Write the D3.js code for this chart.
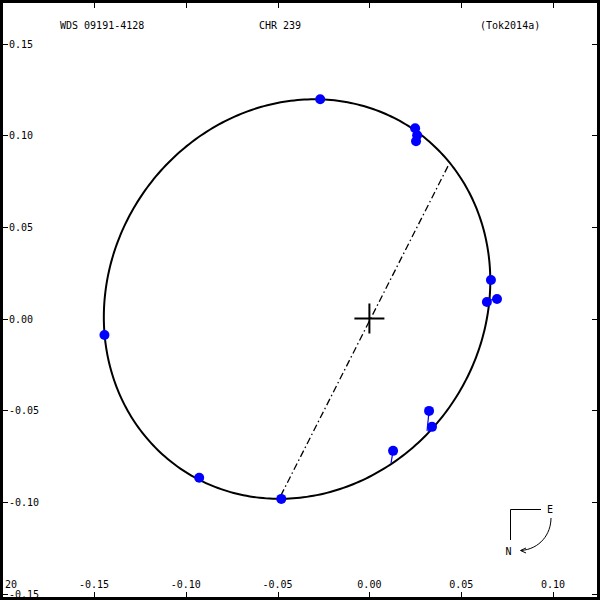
<!DOCTYPE html>
<html>
<head>
<meta charset="utf-8">
<script src="https://cdn.jsdelivr.net/npm/d3@7"></script>
<style>
body { margin: 0; background: #fff; }
svg { display: block; }
text { font-family: 'DejaVu Sans Mono', monospace; font-size: 10px; fill: #000; }
</style>
</head>
<body>
<svg id="chart1" width="600" height="600"></svg>
<script>
'use strict';

var titles = ['WDS 09191-4128', 'CHR 239', '(Tok2014a)'];
var xTicks = [-0.15, -0.10, -0.05, 0.00, 0.05, 0.10];
var yTicks = [0.15, 0.10, 0.05, 0.00, -0.05, -0.10, -0.15];

// apparent orbit: centre x, centre y, semi-major, semi-minor, tilt (deg)
var orbit = [-0.0394, 0.0106, 0.1122, 0.1018, 55.5];
// line of nodes, ends on the orbit
var nodes = [[0.0428, 0.0831], [-0.0486, -0.0973]];

// measures (observed) and where the orbit puts them
var obsX = [-0.0268, 0.0249, 0.0260, 0.0254, 0.0662, 0.0640, 0.0695, 0.0325, 0.0341, 0.0129, -0.1443, -0.0927, -0.0480];
var obsY = [0.1196, 0.1038, 0.1000, 0.0967, 0.0210, 0.0090, 0.0106, -0.0504, -0.0591, -0.0722, -0.0090, -0.0869, -0.0984];
var fitX = [-0.0268, 0.0238, 0.0270, 0.0276, 0.0654, 0.0651, 0.0651, 0.0314, 0.0319, 0.0118, -0.1443, -0.0927, -0.0480];
var fitY = [0.1196, 0.1049, 0.1022, 0.1016, 0.0210, 0.0090, 0.0101, -0.0613, -0.0619, -0.0787, -0.0063, -0.0869, -0.0984];

var x = d3.scaleLinear().domain([-0.15, 0.10]).range([94, 553]);
var y = d3.scaleLinear().domain([-0.15, 0.15]).range([593.5, 43.5]);

var svg = d3.select('#chart1');

var line = d3.line()
	.x(function(p) { return x(p[0]); })
	.y(function(p) { return y(p[1]); });

// orbit ellipse
var th = orbit[4] * Math.PI / 180;
var ring = d3.range(0, 361).map(function(k) {
	var t = k * Math.PI / 180;
	return [
		orbit[0] + orbit[2] * Math.cos(th) * Math.cos(t) - orbit[3] * Math.sin(th) * Math.sin(t),
		orbit[1] + orbit[2] * Math.sin(th) * Math.cos(t) + orbit[3] * Math.cos(th) * Math.sin(t)
	];
});
svg.append('path')
	.attr('d', line(ring))
	.attr('fill', 'none')
	.attr('stroke', '#000')
	.attr('stroke-width', 2);

// line of nodes
svg.append('path')
	.attr('d', line(nodes))
	.attr('fill', 'none')
	.attr('stroke', '#000')
	.attr('stroke-width', 1.3)
	.attr('stroke-dasharray', '7,3,1.5,3');

// primary
svg.append('path')
	.attr('d', 'M' + (x(0) - 15) + ',' + y(0) + 'H' + (x(0) + 15) + 'M' + x(0) + ',' + (y(0) - 15) + 'V' + (y(0) + 15))
	.attr('stroke', '#000')
	.attr('stroke-width', 2);

// residuals + measures
var meas = obsX.map(function(v, i) {
	return {ox: v, oy: obsY[i], fx: fitX[i], fy: fitY[i]};
});
svg.selectAll('line.res')
	.data(meas)
	.enter()
	.append('line')
	.attr('x1', function(d) { return x(d.ox); })
	.attr('y1', function(d) { return y(d.oy); })
	.attr('x2', function(d) { return x(d.fx); })
	.attr('y2', function(d) { return y(d.fy); })
	.attr('stroke', '#0000ff')
	.attr('stroke-width', 1.2);
svg.selectAll('circle.obs')
	.data(meas)
	.enter()
	.append('circle')
	.attr('cx', function(d) { return x(d.ox); })
	.attr('cy', function(d) { return y(d.oy); })
	.attr('r', 5)
	.attr('fill', '#0000ff');

// frame and ticks
svg.append('rect')
	.attr('x', 1.5).attr('y', 1.5)
	.attr('width', 597).attr('height', 597)
	.attr('fill', 'none')
	.attr('stroke', '#000')
	.attr('stroke-width', 3);

xTicks.forEach(function(v) {
	var px = Math.round(x(v)) + 0.5;
	svg.append('path').attr('d', 'M' + px + ',3V8M' + px + ',592V597').attr('stroke', '#000');
	svg.append('text')
		.attr('x', x(v))
		.attr('y', 588)
		.attr('text-anchor', 'middle')
		.text(v.toFixed(2));
});
yTicks.forEach(function(v) {
	var py = Math.round(y(v)) + 0.5;
	svg.append('path').attr('d', 'M3,' + py + 'H8M592,' + py + 'H597').attr('stroke', '#000');
	svg.append('text')
		.attr('x', 9)
		.attr('y', y(v) + 4)
		.text(v.toFixed(2));
});
svg.append('text').attr('x', 5).attr('y', 588).text('20');

// titles
svg.append('text').attr('x', 60).attr('y', 29).text(titles[0]);
svg.append('text').attr('x', 259).attr('y', 29).text(titles[1]);
svg.append('text').attr('x', 480).attr('y', 29).text(titles[2]);

// compass
var comp = svg.append('g').attr('fill', 'none').attr('stroke', '#000');
comp.append('path').attr('d', 'M541,509.5H510.5V540');
comp.append('path').attr('d', 'M551,518C551,534 540,549 521,550.5');
comp.append('path').attr('d', 'M526,548L520.5,550.5L526,553');
svg.append('text').attr('x', 550).attr('y', 513).attr('text-anchor', 'middle').text('E');
svg.append('text').attr('x', 508.5).attr('y', 555).attr('text-anchor', 'middle').text('N');
</script>
</body>
</html>
